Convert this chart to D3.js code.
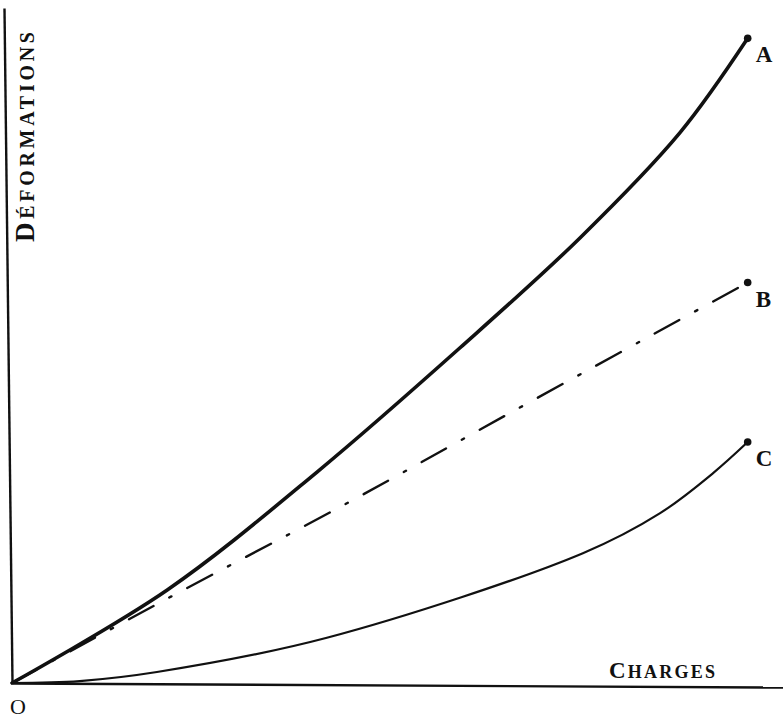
<!DOCTYPE html>
<html>
<head>
<meta charset="utf-8">
<script src="https://cdn.jsdelivr.net/npm/d3@7"></script>
<style>
  html, body { margin: 0; padding: 0; background: #fff; }
  text { font-family: 'Liberation Serif', 'DejaVu Serif', serif; fill: #111; }
</style>
</head>
<body>
<div id="chart"></div>
<script>
const width = 783;
const height = 718;

// Charges (x) vs déformations (y), arbitrary units
const curveA = [
  [0, 0], [21.1, 14.4], [41.5, 32.7], [60.9, 51.9], [77.2, 68.9], [90.8, 85.2], [100, 99.8]
];
const curveB = [
  [0, 0], [21, 13.0], [45, 27.5], [68, 42.0], [100, 62.0]
];
const curveC = [
  [0, 0], [9.2, 0.3], [19.7, 1.7], [42.8, 7.0], [77.6, 20.1], [88.1, 26.3], [95.3, 32.5], [100, 37.3]
];
const labels = ['A', 'B', 'C'];

const x = d3.scaleLinear().domain([0, 104.8]).range([12, 783]);
const y = d3.scaleLinear().domain([0, 104.5]).range([683, 8]);

const svg = d3
  .select('#chart')
  .append('svg')
  .attr('width', width)
  .attr('height', height)
  .attr('xmlns', 'http://www.w3.org/2000/svg');

/* Axes (no ticks, only the lines)
-----------------------------------------------------------------------------*/
svg
  .append('g')
  .attr('transform', `rotate(0.3, ${x(0)}, ${y(0)}) translate(0, ${y(0)})`)
  .call(d3.axisBottom(x).tickValues([]).tickSizeOuter(0));

svg
  .append('g')
  .attr('transform', `rotate(-0.68, ${x(0)}, ${y(0)}) translate(${x(0)}, 0)`)
  .call(d3.axisLeft(y).tickValues([]).tickSizeOuter(0));

svg.selectAll('.domain').attr('stroke', '#111').attr('stroke-width', 2.4);

/* Curves
-----------------------------------------------------------------------------*/
const line = d3
  .line()
  .x((d) => x(d[0]))
  .y((d) => y(d[1]))
  .curve(d3.curveCatmullRom.alpha(0.5));

const series = [
  { data: curveA, width: 3.6, dash: null },
  { data: curveB, width: 2.4, dash: '28 18 2.5 18' },
  { data: curveC, width: 2.2, dash: null },
];

series.forEach((s, i) => {
  svg
    .append('path')
    .attr('d', line(s.data))
    .attr('fill', 'none')
    .attr('stroke', '#111')
    .attr('stroke-width', s.width)
    .attr('stroke-dasharray', s.dash)
    .attr('stroke-linecap', 'round');

  const end = s.data[s.data.length - 1];

  svg
    .append('circle')
    .attr('cx', x(end[0]))
    .attr('cy', y(end[1]))
    .attr('r', 3.8)
    .attr('fill', '#111');

  svg
    .append('text')
    .attr('x', x(end[0]) + 8)
    .attr('y', y(end[1]) + 24)
    .attr('font-size', 23)
    .attr('font-weight', 'bold')
    .text(labels[i]);
});

/* Axis titles
-----------------------------------------------------------------------------*/
const yTitle = svg
  .append('text')
  .attr('transform', `translate(34, 242) rotate(-90)`)
  .attr('font-weight', 'bold')
  .attr('textLength', 210)
  .attr('lengthAdjust', 'spacing');
yTitle.append('tspan').attr('font-size', 27).text('D');
yTitle.append('tspan').attr('font-size', 20).text('ÉFORMATIONS');

const xTitle = svg
  .append('text')
  .attr('x', 609)
  .attr('y', 678)
  .attr('font-weight', 'bold')
  .attr('textLength', 106)
  .attr('lengthAdjust', 'spacing');
xTitle.append('tspan').attr('font-size', 23).text('C');
xTitle.append('tspan').attr('font-size', 18).text('HARGES');

svg
  .append('text')
  .attr('x', 10)
  .attr('y', 714)
  .attr('font-size', 22)
  .text('O');
</script>
</body>
</html>
